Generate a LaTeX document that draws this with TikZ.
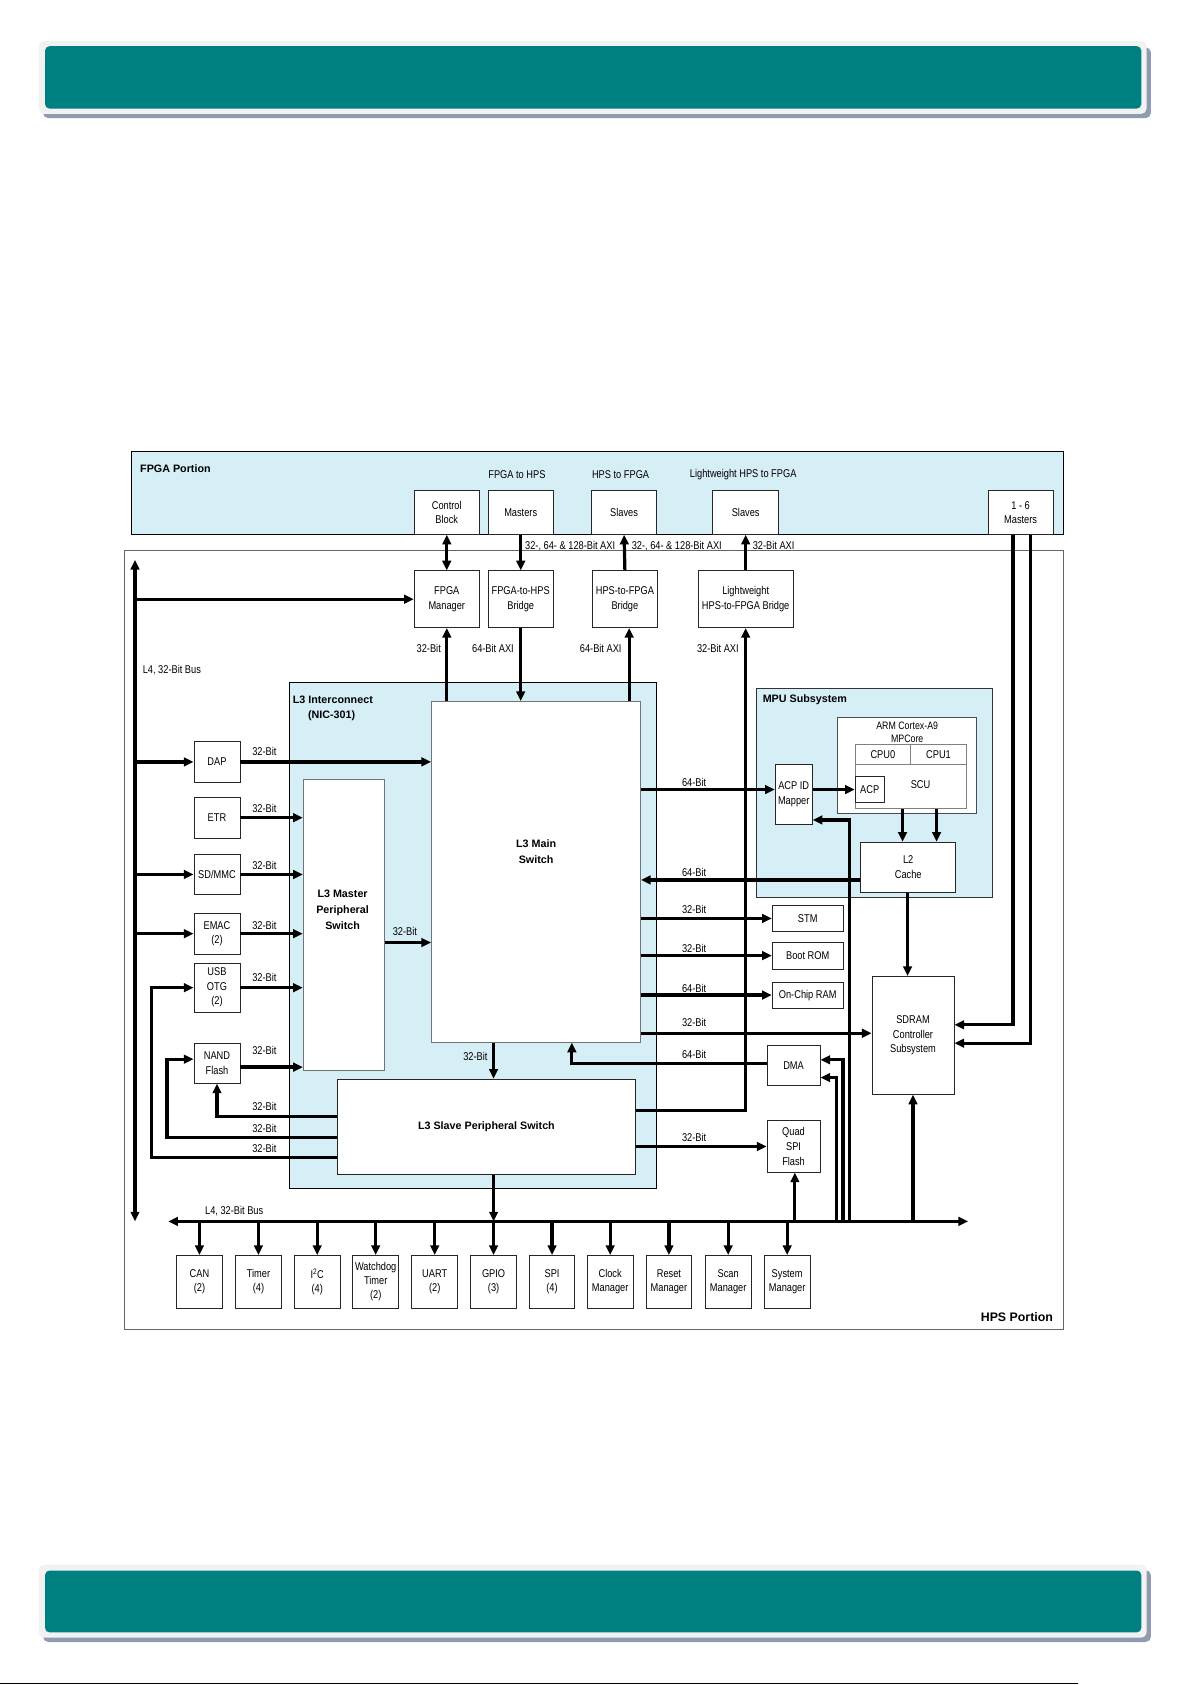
\documentclass[tikz,border=0pt]{standalone}
\usepackage{fontspec}
\setmainfont{Liberation Sans}[FakeStretch=0.82]
\newfontfamily\hdfont{Liberation Sans}
\usetikzlibrary{arrows.meta}

\definecolor{lblue}{RGB}{214,238,245}
\definecolor{tealbar}{RGB}{0,128,128}
\definecolor{barlight}{RGB}{242,242,242}
\definecolor{barshade}{RGB}{143,155,176}

\tikzset{
  blk/.style={draw=black!85, line width=0.8pt, fill=white, inner sep=0pt, align=center, font=\fontsize{10.5}{13.5}\selectfont},
  area/.style={draw=black, line width=0.9pt, fill=lblue, inner sep=0pt},
  lbl/.style={inner sep=0pt, font=\fontsize{10.5}{13.5}\selectfont},
  hd/.style={inner sep=0pt, align=center, font=\hdfont\bfseries\fontsize{10}{14.6}\selectfont},
  bus/.style={line width=3pt, ->},
  wire/.style={line width=3pt},
}

\begin{document}
\begin{tikzpicture}[x=1pt, y=-1pt, >={Triangle[length=9pt,width=8pt]}]

        \useasboundingbox (0,0) rectangle (1109,1568);

        % page bars
        \fill[barshade, rounded corners=5] (40,44) rectangle (1071,110);
        \fill[barlight, rounded corners=5] (36,38) rectangle (1067,106);
        \fill[tealbar, rounded corners=4] (42,43) rectangle (1062,101);
        \fill[barshade, rounded corners=5] (40,1461) rectangle (1071,1528);
        \fill[barlight, rounded corners=5] (36,1456) rectangle (1067,1524);
        \fill[tealbar, rounded corners=4] (42,1461.5) rectangle (1062,1519);
        \draw[line width=1.5pt] (0,1566.5) -- (1003,1566.5);

        % regions
        \node[area, minimum width=866.8pt, minimum height=77pt] (fpga) at (555.9,458.7) {};
        \node[draw=black!60, line width=0.8pt, fill=white, inner sep=0pt, minimum width=873.6pt, minimum height=724.1pt] (hps) at (552.5,874.65) {};
        \node[area, minimum width=341.2pt, minimum height=470.4pt] (l3ic) at (440.4,870.4) {};
        \node[area, draw=black!80, minimum width=219.6pt, minimum height=194.5pt] (mpu) at (813.8,737.65) {};

        \node[hd, anchor=west] (fpgalab) at (130.3,436.4) {FPGA Portion};
        \node[hd, anchor=east, font=\hdfont\bfseries\fontsize{11.5}{14}\selectfont] (hpslab) at (980,1225.6) {HPS Portion};
        \node[hd, anchor=west] (l3iclab) at (272.3,651.3) {L3 Interconnect};
        \node[hd] (niclab) at (308.6,665.9) {(NIC-301)};
        \node[hd, anchor=west] (mpulab) at (709.6,651.3) {MPU Subsystem};

        \node[lbl] (t1) at (481,442) {FPGA to HPS};
        \node[lbl] (t2) at (577.5,442) {HPS to FPGA};
        \node[lbl] (t3) at (691.6,442) {Lightweight HPS to FPGA};

        % FPGA side
        \node[blk, minimum width=60.5pt, minimum height=40.4pt] (ctrl) at (415.75,477) {Control\\Block};
        \node[blk, minimum width=60.5pt, minimum height=40.4pt] (mst) at (484.55,477) {Masters};
        \node[blk, minimum width=60.5pt, minimum height=40.4pt] (slv) at (580.75,477) {Slaves};
        \node[blk, minimum width=61pt, minimum height=40.4pt] (lwslv) at (693.9,477) {Slaves};
        \node[blk, minimum width=60.5pt, minimum height=40.4pt] (fmst) at (949.75,477) {1 - 6\\Masters};

        % bridges
        \node[blk, minimum width=60.5pt, minimum height=52.8pt] (fmgr) at (415.75,557.6) {FPGA\\Manager};
        \node[blk, minimum width=60.5pt, minimum height=52.8pt] (f2h) at (484.55,557.6) {FPGA-to-HPS\\Bridge};
        \node[blk, minimum width=60.8pt, minimum height=52.8pt] (h2f) at (581.5,557.6) {HPS-to-FPGA\\Bridge};
        \node[blk, minimum width=88.4pt, minimum height=52.8pt] (lwb) at (693.9,557.6) {Lightweight\\HPS-to-FPGA Bridge};

        \node[lbl, anchor=west] (a1) at (488.5,508) {32-, 64- \& 128-Bit AXI};
        \node[lbl, anchor=west] (a2) at (587.7,508) {32-, 64- \& 128-Bit AXI};
        \node[lbl, anchor=west] (a3) at (700.3,508) {32-Bit AXI};
        \node[lbl] (b1) at (399,603.2) {32-Bit};
        \node[lbl] (b2) at (458.7,603.2) {64-Bit AXI};
        \node[lbl] (b3) at (559,603.2) {64-Bit AXI};
        \node[lbl] (b4) at (668,603.2) {32-Bit AXI};
        \node[lbl, anchor=west] (l4top) at (132.7,623.4) {L4, 32-Bit Bus};
        \node[lbl, anchor=west] (l4bot) at (190.7,1126.7) {L4, 32-Bit Bus};

        % L3 interconnect
        \node[draw=black!55, line width=0.8pt, fill=white, minimum width=194.5pt, minimum height=317pt] (main) at (498.85,811.3) {};
        \node[hd] (mainlab) at (498.85,792.8) {L3 Main\\Switch};
        \node[draw=black!55, line width=0.8pt, fill=white, minimum width=75.4pt, minimum height=270.8pt] (mps) at (319.9,861.1) {};
        \node[hd] (mpslab) at (318.8,846.5) {L3 Master\\Peripheral\\Switch};
        \node[blk, font=\hdfont\bfseries\fontsize{10}{14}\selectfont, minimum width=277.5pt, minimum height=89pt] (sps) at (452.65,1048.7) {L3 Slave Peripheral Switch};

        % masters on the left
        \node[blk, minimum width=42.8pt, minimum height=38pt] (dap) at (201.9,709) {DAP};
        \node[blk, minimum width=42.8pt, minimum height=38pt] (etr) at (201.9,760.9) {ETR};
        \node[blk, minimum width=42.8pt, minimum height=38pt] (sdmmc) at (201.9,813.75) {SD/MMC};
        \node[blk, minimum width=42.8pt, minimum height=38pt] (emac) at (201.9,868.85) {EMAC\\(2)};
        \node[blk, minimum width=42.8pt, minimum height=45.6pt] (usb) at (201.9,919.1) {USB\\OTG\\(2)};
        \node[blk, minimum width=42.8pt, minimum height=37.2pt] (nand) at (201.9,989.3) {NAND\\Flash};

        % MPU
        \node[draw=black!70, line width=0.8pt, fill=white, minimum width=129.7pt, minimum height=89.3pt] (arm) at (843.85,712.05) {};
        \node[lbl, align=center, font=\fontsize{10}{12.7}\selectfont] (armlab) at (844.2,681.5) {ARM Cortex-A9\\MPCore};
        \node[blk, draw=black!50, minimum width=103.6pt, minimum height=41pt] (scu) at (847.6,731.6) {};
        \node[blk, draw=black!50, minimum width=51.5pt, minimum height=18pt] (cpu0) at (821.55,702.1) {CPU0};
        \node[blk, draw=black!50, minimum width=52.1pt, minimum height=18pt] (cpu1) at (873.35,702.1) {CPU1};
        \node[lbl] (sculab) at (856.6,730.4) {SCU};
        \node[blk, minimum width=27pt, minimum height=24.2pt] (acp) at (809.3,734.7) {ACP};
        \node[blk, minimum width=34.4pt, minimum height=55.8pt] (acpm) at (738.6,739) {ACP ID\\Mapper};
        \node[blk, minimum width=88.7pt, minimum height=46.5pt] (l2) at (845.15,806.95) {L2\\Cache};

        % slaves on the right
        \node[blk, minimum width=66pt, minimum height=24.2pt] (stm) at (751.6,854.7) {STM};
        \node[blk, minimum width=66pt, minimum height=25.1pt] (brom) at (751.6,889.25) {Boot ROM};
        \node[blk, minimum width=66pt, minimum height=24.2pt] (ocram) at (751.6,926) {On-Chip RAM};
        \node[blk, minimum width=76.2pt, minimum height=109.5pt] (sdram) at (849.6,963.45) {SDRAM\\Controller\\Subsystem};
        \node[blk, minimum width=49.3pt, minimum height=37.8pt] (dma) at (738.45,991.5) {DMA};
        \node[blk, minimum width=49.3pt, minimum height=47.7pt] (qspi) at (738.45,1066.85) {Quad\\SPI\\Flash};

        % buses
        \coordinate (bustop) at (125.6,521);
        \coordinate (busbot) at (125.6,1136.6);
        \coordinate (busl) at (156.6,1136.6);
        \coordinate (busr) at (900.9,1136.6);
        \draw[wire, <->] (bustop) -- (busbot);
        \draw[wire, <->] (busl) -- (busr);

        % peripherals on the L4 bus
        \foreach \nm/\x/\txt in {can/185.6/{CAN\\(2)}, tmr/240.5/{Timer\\(4)}, itc/295.2/{I\textsuperscript{2}C\\(4)},
                wdt/349.6/{Watchdog\\Timer\\(2)}, uart/404.5/{UART\\(2)}, gpio/459.3/{GPIO\\(3)}, spi/513.7/{SPI\\(4)},
                clkm/567.8/{Clock\\Manager}, rstm/622.5/{Reset\\Manager}, scnm/677.6/{Scan\\Manager}, sysm/732.5/{System\\Manager}} {
            \node[blk, minimum width=42.6pt, minimum height=49pt, font=\fontsize{10.5}{13}\selectfont] (\nm) at (\x,1192.8) {\txt};
            \draw[bus] (\nm.north |- busl) -- (\nm.north);
        }

        % FPGA links
        \draw[wire, <->] (ctrl.south) -- (fmgr.north);
        \draw[bus] (mst.south) -- (f2h.north);
        \draw[bus] (h2f.north) -- (slv.south);
        \draw[bus] (lwb.north) -- (lwslv.south);
        \draw[bus] (main.north -| fmgr.south) -- (fmgr.south);
        \draw[bus] (f2h.south) -- (f2h.south |- main.north);
        \draw[bus] ([xshift=4pt]h2f.south |- main.north) -- ([xshift=4pt]h2f.south);
        \draw[bus] ([yshift=15.3pt]sps.east) -| (lwb.south);
        \draw[bus] (bustop |- fmgr.west) -- (fmgr.west);

        % masters into L3
        \draw[bus] (bustop |- dap.west) -- (dap.west);
        \draw[bus] (bustop |- sdmmc.west) -- (sdmmc.west);
        \draw[bus] (bustop |- emac.west) -- (emac.west);
        \draw[bus] (dap.east) -- (dap.east -| main.west);
        \draw[bus] (etr.east) -- (etr.east -| mps.west);
        \draw[bus] (sdmmc.east) -- (sdmmc.east -| mps.west);
        \draw[bus] (emac.east) -- (emac.east -| mps.west);
        \draw[bus] (usb.east) -- (usb.east -| mps.west);
        \draw[bus] ([yshift=-3.7pt]nand.east) -- ([yshift=-3.7pt]nand.east -| mps.west);
        \draw[bus] ([yshift=-16pt]mps.east) -- ([yshift=-16pt]mps.east -| main.west);
        \draw[bus] (main.south -| gpio.north) -- (sps.north -| gpio.north);
        \draw[bus] (sps.south -| gpio.north) -- (gpio.north |- busl);

        % slave switch to the left side
        \draw[bus] ([yshift=9.7pt]sps.west) -| (nand.south);
        \draw[bus] ([yshift=-9.8pt]sps.west) -| ([xshift=-24.8pt, yshift=3.7pt]nand.west) -- ([yshift=3.7pt]nand.west);
        \draw[bus] ([yshift=-28.1pt]sps.west) -| ([xshift=-39.4pt]usb.west) -- (usb.west);

        \foreach \y [count=\i] in {699.6, 752, 805.6, 860.8, 909.6, 977.6, 1029.7, 1050.4, 1068.4}
            \node[lbl] (lw\i) at (246,\y) {32-Bit};
        \node[lbl] (mw) at (376.8,867) {32-Bit};
        \node[lbl] (sw) at (442.4,983) {32-Bit};

        % right side of the main switch
        \draw[bus] (main.east |- acp.west) -- (acpm.west |- acp.west);
        \draw[bus] (acpm.east |- acp.west) -- (acp.west);
        \draw[bus] ([xshift=-5.3pt]l2.north |- scu.south) -- ([xshift=-5.3pt]l2.north);
        \draw[bus] ([xshift=26.4pt]l2.north |- scu.south) -- ([xshift=26.4pt]l2.north);
        \draw[bus] ([yshift=-11.9pt]l2.west) -- ([yshift=-11.9pt]l2.west -| main.east);
        \draw[bus] ([xshift=-0.6pt]l2.south) -- ([xshift=-0.6pt]l2.south |- sdram.north);
        \draw[bus] (main.east |- stm.west) -- (stm.west);
        \draw[bus] (main.east |- brom.west) -- (brom.west);
        \draw[bus] (main.east |- ocram.west) -- (ocram.west);
        \draw[bus] ([yshift=2pt]sdram.west -| main.east) -- ([yshift=2pt]sdram.west);
        \draw[bus] ([yshift=2.2pt]dma.west) -| ([xshift=33.3pt]main.south);
        \draw[bus] (sps.east |- qspi.west) -- (qspi.west);
        \draw[bus] ([xshift=1.2pt]qspi.south |- busl) -- ([xshift=1.2pt]qspi.south);
        \draw[bus] ([xshift=14.7pt]dma.east |- busl) |- ([yshift=-11.2pt]dma.east);
        \draw[bus] ([xshift=20.9pt]dma.east |- busl) |- ([yshift=5.3pt]dma.east);
        \draw[bus] ([xshift=27.1pt]dma.east |- busl) |- ([yshift=-24pt]acpm.east);
        \draw[bus] (sdram.south |- busl) -- (sdram.south);
        \draw[bus] ([xshift=-7pt]fmst.south) |- ([yshift=9.8pt]sdram.east);
        \draw[bus] ([xshift=9.3pt]fmst.south) |- ([yshift=-7.3pt]sdram.east);

        \foreach \t/\y [count=\i] in {64-Bit/728.2, 64-Bit/812, 32-Bit/846.7, 32-Bit/882.3, 64-Bit/919.5, 32-Bit/951.5, 64-Bit/981.6, 32-Bit/1058.5}
            \node[lbl] (rw\i) at (645.9,\y) {\t};

    \end{tikzpicture}
\end{document}
